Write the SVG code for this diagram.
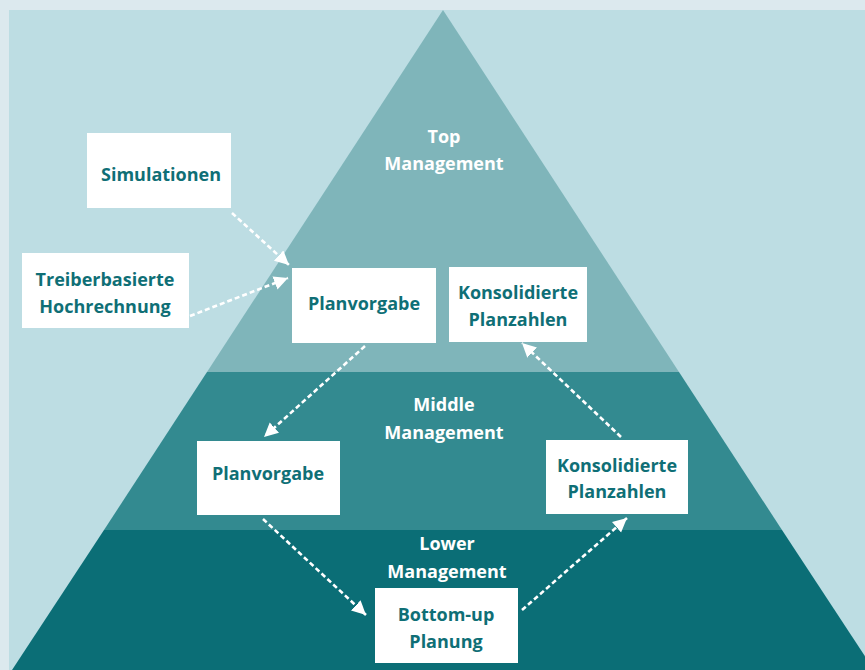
<svg xmlns="http://www.w3.org/2000/svg" width="865" height="670" viewBox="0 0 865 670">
<defs>
<style>
.box{fill:#ffffff}
.bt{font-family:"Open Sans","Liberation Sans",sans-serif;font-weight:bold;font-size:18px;fill:#0f6f76;text-anchor:middle}
.lt{font-family:"Open Sans","Liberation Sans",sans-serif;font-weight:bold;font-size:18px;fill:#ffffff;text-anchor:middle}
.ar{stroke:#ffffff;stroke-width:2.6;stroke-dasharray:5 3;fill:none}
</style>
<marker id="ah" markerUnits="userSpaceOnUse" markerWidth="16" markerHeight="16" refX="14" refY="7" orient="auto">
<path d="M0,0 L14,7 L0,14 Z" fill="#ffffff"/>
</marker>
</defs>
<rect x="0" y="0" width="865" height="670" fill="#dce9ee"/>
<rect x="9" y="10" width="856" height="660" fill="#bddde3"/>
<g id="pyramid">
<polygon points="443,10 679,372 207,372" fill="#7fb5ba"/>
<polygon points="207,372 679,372 782,530 104,530" fill="#338a90"/>
<polygon points="104,530 782,530 874,670 12,670" fill="#0b6e76"/>
<text class="lt" x="444" y="143">Top</text>
<text class="lt" x="444" y="170">Management</text>
<text class="lt" x="444" y="411">Middle</text>
<text class="lt" x="444" y="439">Management</text>
<text class="lt" x="447" y="550">Lower</text>
<text class="lt" x="447" y="578">Management</text>
</g>
<g id="connectors">
<line class="ar" x1="232" y1="213" x2="289" y2="265" marker-end="url(#ah)"/>
<line class="ar" x1="190" y1="316" x2="288" y2="278" marker-end="url(#ah)"/>
<line class="ar" x1="365" y1="346" x2="264" y2="437" marker-end="url(#ah)"/>
<line class="ar" x1="263" y1="519" x2="366" y2="615" marker-end="url(#ah)"/>
<line class="ar" x1="522" y1="610" x2="627" y2="518" marker-end="url(#ah)"/>
<line class="ar" x1="621" y1="437" x2="522" y2="343" marker-end="url(#ah)"/>
</g>
<g id="simulationen">
<rect class="box" x="87" y="133" width="144" height="75"/>
<text class="bt" x="161" y="181">Simulationen</text>
</g>
<g id="treiberbasierte">
<rect class="box" x="22" y="253" width="167" height="75"/>
<text class="bt" x="105" y="286">Treiberbasierte</text>
<text class="bt" x="105" y="313">Hochrechnung</text>
</g>
<g id="planvorgabe-top">
<rect class="box" x="292" y="268" width="144" height="75"/>
<text class="bt" x="364" y="310">Planvorgabe</text>
</g>
<g id="konsolidierte-top">
<rect class="box" x="449" y="267" width="138" height="75"/>
<text class="bt" x="518" y="299">Konsolidierte</text>
<text class="bt" x="518" y="326">Planzahlen</text>
</g>
<g id="planvorgabe-middle">
<rect class="box" x="197" y="441" width="143" height="74"/>
<text class="bt" x="268" y="480">Planvorgabe</text>
</g>
<g id="konsolidierte-middle">
<rect class="box" x="546" y="440" width="142" height="74"/>
<text class="bt" x="617" y="472">Konsolidierte</text>
<text class="bt" x="617" y="498">Planzahlen</text>
</g>
<g id="bottom-up">
<rect class="box" x="375" y="588" width="143" height="75"/>
<text class="bt" x="446" y="621">Bottom-up</text>
<text class="bt" x="446" y="648">Planung</text>
</g>
</svg>
